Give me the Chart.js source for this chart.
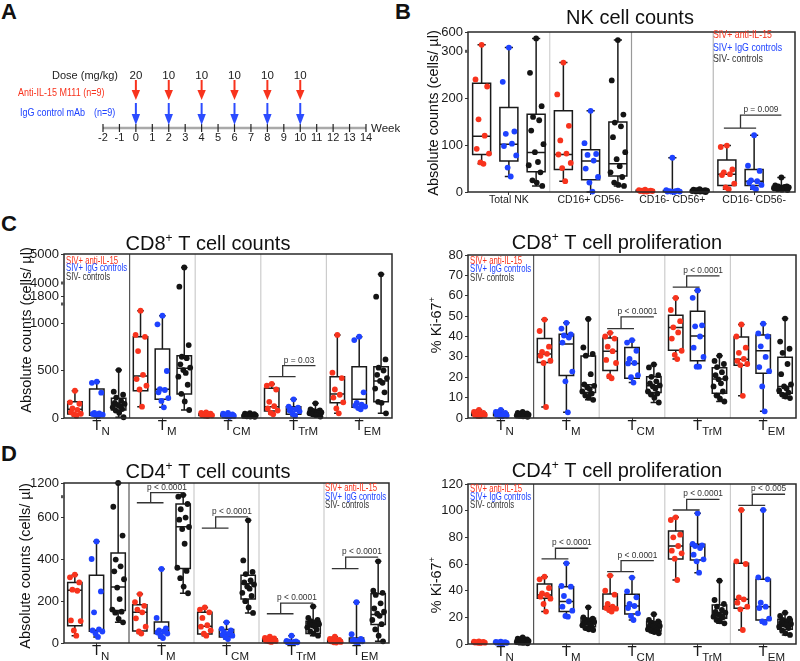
<!DOCTYPE html>
<html>
<head>
<meta charset="utf-8">
<script src="https://cdn.jsdelivr.net/npm/chart.js@4.4.1/dist/chart.umd.min.js"></script>
<style>
  body { margin: 0; width: 800px; height: 661px; position: relative; background: #fff; overflow: hidden;
         font-family: "Liberation Sans", Arial, sans-serif; }
  canvas { position: absolute; }
  .tag { position: absolute; font-weight: bold; font-size: 22px; line-height: 22px; color: #111; }
</style>
</head>
<body>
<div class="tag" style="left:1px;top:1px">A</div>
<div class="tag" style="left:395px;top:1px">B</div>
<div class="tag" style="left:1px;top:213px">C</div>
<div class="tag" style="left:1px;top:443px">D</div>
<canvas id="timeline" width="400" height="160" style="left:0px;top:0px"></canvas>
<canvas id="nk" width="400" height="215" style="left:400px;top:0px"></canvas>
<canvas id="cd8c" width="400" height="215" style="left:0px;top:225px"></canvas>
<canvas id="cd8k" width="400" height="215" style="left:400px;top:225px"></canvas>
<canvas id="cd4c" width="400" height="211" style="left:0px;top:450px"></canvas>
<canvas id="cd4k" width="400" height="211" style="left:400px;top:450px"></canvas>
<script>
// ---- panel A: dosing schedule
const weekTicks = [-2, -1, 0, 1, 2, 3, 4, 5, 6, 7, 8, 9, 10, 11, 12, 13, 14];
const doseWeeks = [0, 2, 4, 6, 8, 10];
const doseMg = [20, 10, 10, 10, 10, 10];

// ---- panel B: NK cell counts (cells/ul)
const nkGroups = ['Total NK', 'CD16+ CD56-', 'CD16- CD56+', 'CD16- CD56-'];
const nkTicks = [0, 100, 200, 300, 600];
const nkRed = [
  [400, 240, 225, 155, 120, 92, 82, 63, 60],
  [276, 208, 141, 110, 82, 80, 62, 51, 23],
  [5, 4, 3, 3, 2, 2, 2, 1, 1],
  [99, 96, 48, 42, 38, 36, 18, 10, 6]
];
const nkBlue = [
  [358, 235, 129, 124, 103, 98, 78, 52, 33],
  [173, 104, 81, 79, 67, 50, 32, 20, 1],
  [73, 4, 3, 2, 2, 1, 1, 1, 0],
  [121, 56, 45, 25, 23, 20, 15, 10, 6]
];
const nkBlack = [
  [500, 254, 183, 160, 153, 131, 102, 85, 64, 57, 42, 25, 20, 13],
  [474, 238, 165, 148, 140, 117, 85, 70, 55, 42, 32, 20, 15, 13],
  [6, 5, 4, 4, 3, 3, 3, 2, 2, 2, 1, 1, 1, 0],
  [31, 14, 12, 12, 11, 10, 10, 9, 8, 8, 7, 6, 5, 4]
];
// box stats: [min, q1, median, q3, max]
const nkRedBox = [[60, 80, 119, 232, 400], [23, 48, 80, 173, 276], [1, 1.5, 2, 3.5, 5], [6, 14, 38, 68, 99]];
const nkBlueBox = [[33, 66, 102, 180, 358], [0, 26, 66, 90, 173], [0, 1, 2, 3, 73], [6, 14, 23, 48, 121]];
const nkBlackBox = [[13, 43, 84, 166, 500], [13, 34, 60, 149, 474], [0, 1, 2.5, 4, 6], [4, 7, 10, 12, 31]];

// ---- T cell subsets
const tSubsets = ['N', 'M', 'CM', 'TrM', 'EM'];

// ---- panel C left: CD8+ T cell counts
const cd8cTicks = [0, 500, 1000, 1800, 4000, 5000];
const cd8cRed = [
  [287, 165, 150, 102, 85, 60, 45, 40, 25],
  [1130, 875, 855, 705, 455, 410, 340, 300, 119],
  [60, 55, 45, 40, 35, 30, 28, 25, 20],
  [358, 340, 300, 170, 125, 100, 78, 55, 39],
  [874, 477, 420, 300, 245, 215, 165, 100, 49]
];
const cd8cBlue = [
  [382, 370, 267, 55, 48, 42, 35, 28, 20],
  [1077, 986, 495, 305, 295, 270, 210, 180, 112],
  [55, 45, 38, 32, 28, 25, 22, 18, 12],
  [197, 120, 110, 95, 90, 80, 70, 45, 25],
  [856, 820, 270, 160, 140, 130, 120, 105, 91]
];
const cd8cBlack = [
  [505, 277, 245, 215, 180, 158, 148, 137, 125, 112, 95, 78, 55, 8],
  [4535, 3370, 768, 645, 630, 565, 530, 505, 475, 435, 350, 255, 175, 84],
  [50, 45, 40, 35, 33, 30, 28, 26, 24, 22, 20, 18, 15, 12],
  [154, 90, 80, 75, 70, 65, 60, 58, 55, 50, 45, 40, 30, 15],
  [4300, 1750, 617, 530, 500, 455, 420, 390, 370, 310, 270, 170, 160, 49]
];
const cd8cRedBox = [[21, 42, 91, 172, 287], [119, 287, 442, 856, 1130], [20, 27, 35, 45, 60], [39, 74, 119, 312, 358], [49, 161, 253, 435, 874]];
const cd8cBlueBox = [[20, 30, 49, 305, 382], [112, 197, 302, 726, 1077], [12, 20, 28, 40, 55], [21, 39, 91, 119, 197], [91, 112, 197, 540, 856]];
const cd8cBlackBox = [[8, 84, 137, 207, 505], [84, 253, 523, 656, 4535], [12, 20, 27, 35, 50], [15, 39, 60, 74, 154], [49, 172, 389, 540, 4300]];

// ---- panel C right: CD8+ T cell proliferation (% Ki-67+)
const cd8kTicks = [0, 10, 20, 30, 40, 50, 60, 70, 80];
const cd8kRed = [
  [4, 3, 2.5, 2, 2, 1.5, 1.5, 1, 1],
  [48.3, 42.7, 35, 32.5, 31.5, 30.5, 28.1, 27, 5.4],
  [41.8, 40, 39, 35, 32.8, 28.5, 27, 20.5, 19.5],
  [58.9, 53, 47.5, 44.5, 42, 39, 33, 31, 28.9],
  [45.9, 40, 34.5, 32, 29, 28, 26.5, 26, 10.9]
];
const cd8kBlue = [
  [4, 3, 2.5, 2, 1.8, 1.5, 1.2, 1, 0.8],
  [46.7, 43.9, 41, 40.5, 39.5, 37, 22.8, 18, 2.8],
  [38.2, 37, 33, 29, 27, 26.8, 21, 20, 17.4],
  [62.6, 59, 45.5, 45, 40, 34.5, 30, 25.2, 25.2],
  [46.3, 41.5, 40, 35.2, 30, 25, 23, 15.5, 3.3]
];
const cd8kBlack = [
  [3, 2.5, 2.2, 2, 2, 1.8, 1.6, 1.5, 1.4, 1.2, 1, 1, 0.8, 0.6],
  [48.6, 34.6, 31.4, 30.6, 21.5, 16.5, 15.8, 15, 14.2, 13, 12, 11, 10, 8.9],
  [26.3, 24.8, 21, 20.2, 18, 17, 16, 15.5, 14.5, 13, 12, 11.5, 10, 7.6],
  [30.6, 28, 26.5, 25, 22.5, 21, 19.5, 19, 17, 15.5, 13, 11, 9.5, 8.1],
  [48.8, 37.5, 34, 32, 26.5, 21.5, 16.5, 15.5, 14.5, 13.5, 12.5, 11.5, 10.5, 9.8]
];
const cd8kRedBox = [[1, 1.2, 1.8, 2.5, 4], [5.4, 27.3, 31.4, 39, 48.3], [19.5, 23.3, 32.8, 39.3, 41.8], [28.9, 33.3, 44.4, 50.4, 58.9], [10.9, 25.9, 28.8, 39.8, 45.9]];
const cd8kBlueBox = [[0.8, 1.1, 1.8, 2.5, 4], [2.8, 20.8, 36.3, 41.1, 46.7], [17.4, 19.5, 26.8, 34.6, 38.2], [25.2, 28.1, 40.2, 52.4, 62.6], [3.3, 22, 33, 40.7, 46.3]];
const cd8kBlackBox = [[0.6, 1.1, 1.6, 2.1, 3], [8.9, 12.5, 16.3, 30.4, 48.6], [7.6, 12.5, 15.8, 20.3, 26.3], [8.1, 12.2, 19.2, 24.7, 30.6], [9.8, 12.2, 15.4, 29.8, 48.8]];

// ---- panel D left: CD4+ T cell counts
const cd4cTicks = [0, 200, 400, 600, 1200];
const cd4cRed = [
  [327, 314, 290, 255, 250, 108, 105, 60, 35],
  [234, 196, 178, 160, 147, 118, 78, 55, 45],
  [170, 160, 147, 120, 85, 78, 60, 45, 35],
  [30, 25, 22, 18, 15, 12, 10, 8, 5],
  [30, 20, 15, 12, 10, 8, 5, 3, 2]
];
const cd4cBlue = [
  [486, 402, 247, 147, 65, 60, 55, 45, 29],
  [354, 120, 70, 60, 55, 50, 45, 35, 24],
  [99, 68, 60, 52, 45, 40, 35, 28, 19],
  [35, 10, 8, 6, 5, 4, 3, 2, 1],
  [195, 42, 20, 15, 12, 10, 8, 5, 2]
];
const cd4cBlack = [
  [1200, 652, 514, 399, 367, 343, 305, 265, 210, 160, 150, 145, 115, 99],
  [762, 700, 665, 640, 600, 590, 555, 545, 475, 360, 345, 310, 270, 238],
  [587, 395, 340, 330, 300, 290, 280, 270, 260, 240, 225, 200, 170, 144],
  [175, 120, 110, 105, 100, 95, 90, 85, 80, 75, 65, 55, 45, 35],
  [391, 250, 240, 230, 190, 165, 150, 140, 130, 110, 90, 65, 35, 8]
];
const cd4cRedBox = [[35, 83, 252, 290, 327], [45, 58, 147, 183, 234], [35, 43, 80, 147, 170], [5, 8, 14, 20, 30], [2, 3, 8, 14, 30]];
const cd4cBlueBox = [[29, 56, 61, 324, 486], [24, 45, 56, 100, 354], [19, 29, 43, 64, 99], [1, 2, 4, 8, 35], [0, 5, 13, 24, 195]];
const cd4cBlackBox = [[99, 155, 268, 431, 1200], [238, 357, 556, 665, 762], [144, 211, 284, 324, 587], [35, 45, 80, 104, 175], [8, 88, 136, 236, 391]];

// ---- panel D right: CD4+ T cell proliferation (% Ki-67+)
const cd4kTicks = [0, 20, 40, 60, 80, 100, 120];
const cd4kRed = [
  [2, 1.8, 1.5, 1.4, 1.2, 1.1, 1, 0.9, 0.8],
  [50.5, 48.5, 42, 38, 36.8, 35.5, 34, 30, 24.3],
  [51.3, 40, 37, 30, 28, 27, 26.5, 25.5, 24.3],
  [95, 93, 82, 80, 73.5, 70, 68, 64, 48],
  [100.5, 62, 60, 35, 33.5, 31, 28, 26, 10.5]
];
const cd4kBlue = [
  [1.8, 1.5, 1.3, 1.2, 1, 1, 0.9, 0.8, 0.6],
  [60.5, 43.5, 43, 36, 32, 28, 25, 21, 20.5],
  [49.8, 39.5, 35, 30, 28.5, 27, 23, 21, 18],
  [98, 75, 74, 73.5, 72, 67, 63.5, 62, 53.5],
  [100.5, 50, 48.5, 31, 28, 27, 19, 17, 16]
];
const cd4kBlack = [
  [5, 4, 3.5, 3, 2.8, 2.5, 2.3, 2, 1.8, 1.5, 1.3, 1, 0.8, 0.5],
  [27.5, 20, 19, 18, 17.5, 17, 16.5, 16, 15, 14, 13, 12, 11, 10.5],
  [22.3, 18, 17, 16, 15, 14, 13.5, 13, 12, 11, 10.5, 10, 9, 8],
  [47.5, 33, 30, 28, 25.5, 24, 23.5, 22, 21, 20.5, 20, 18, 17, 15.5],
  [23.5, 21, 19, 18, 17, 16, 15, 14.5, 14, 13, 12, 10, 8, 6.8]
];
const cd4kRedBox = [[0.8, 1, 1.2, 1.6, 2], [24.3, 34.3, 36.8, 45, 50.5], [24.3, 26.3, 28, 37.5, 51.3], [48, 63.8, 73.5, 84.8, 95], [10.5, 26.8, 33.5, 60.5, 100.5]];
const cd4kBlueBox = [[0.6, 0.85, 1, 1.3, 1.8], [20.5, 24.3, 31.8, 43, 60.5], [18, 22.5, 28.5, 37.3, 49.8], [53.5, 63, 73.5, 74.8, 98], [16, 18, 28, 48.5, 100.5]];
const cd4kBlackBox = [[0.5, 1.3, 2.4, 3.2, 5], [10.5, 13, 16.3, 19.3, 27.5], [8, 9.8, 13, 16.8, 22.3], [15.5, 19.3, 23.5, 29.3, 47.5], [6.8, 11, 14.3, 18.5, 23.5]];

// ---- significance brackets: group, lower bar, upper bar (data units), label
const nkSig = [[3, 136, 164, 'p = 0.009']];
const cd8cSig = [[3, 435, 551, 'p = 0.03']];
const cd8kSig = [[2, 43.9, 49.6, 'p < 0.0001'], [3, 64.2, 69.8, 'p < 0.0001']];
const cd4cSig = [[1, 671, 846, 'p < 0.0001'], [2, 550, 603, 'p < 0.0001'], [3, 140, 191, 'p < 0.0001'], [4, 356, 411, 'p < 0.0001']];
const cd4kSig = [[1, 63.8, 71.8, 'p < 0.0001'], [2, 54.3, 62.5, 'p < 0.0001'], [3, 100.5, 108.5, 'p < 0.0001'], [4, 104, 112.3, 'p < 0.005']];

const legendNames = ['SIV+ anti-IL-15', 'SIV+ IgG controls', 'SIV- controls'];

const RED = '#f8331d', BLUE = '#1e42ff', BLACK = '#141414';
const FONT = '"Liberation Sans", Arial, sans-serif';
const OFF = [1 / 6, 1 / 2, 5 / 6];
const JIT = [0, -0.5, 0.45, -0.25, 0.25, -0.4, 0.6, -0.1, 0.15, -0.6, 0.35, -0.3, 0.05, 0.5];

// piecewise-linear mapping for broken axes (values -> px above the bottom of the plot)
function piecewise(knots) {
  if (!knots) return v => v;
  const [vs, ds] = knots;
  return v => {
    for (let i = 1; i < vs.length; i++) {
      if (v <= vs[i] || i === vs.length - 1) {
        return ds[i - 1] + (v - vs[i - 1]) / (vs[i] - vs[i - 1]) * (ds[i] - ds[i - 1]);
      }
    }
  };
}

function label(ctx, s, x, y, size, color, align, sx) {
  ctx.save();
  ctx.font = size + 'px ' + FONT;
  ctx.fillStyle = color;
  ctx.textAlign = align || 'left';
  ctx.textBaseline = 'middle';
  ctx.translate(x, y);
  ctx.scale(sx || 1, 1);
  ctx.fillText(s, 0, 0);
  ctx.restore();
}

// centered text made of [text, size, dy] pieces (for superscripts / subscripts)
function rich(ctx, parts, x, y, color) {
  ctx.save();
  ctx.fillStyle = color;
  ctx.textBaseline = 'alphabetic';
  ctx.textAlign = 'left';
  let w = 0;
  parts.forEach(p => { ctx.font = p[1] + 'px ' + FONT; w += ctx.measureText(p[0]).width; });
  let cx = x - w / 2;
  parts.forEach(p => {
    ctx.font = p[1] + 'px ' + FONT;
    ctx.fillText(p[0], cx, y + (p[2] || 0));
    cx += ctx.measureText(p[0]).width;
  });
  ctx.restore();
}

function boxChart(id, c) {
  const cv = document.getElementById(id);
  const ox = parseFloat(cv.style.left), oy = parseFloat(cv.style.top);
  const [L, T, R, B] = c.area;
  const f = piecewise(c.knots);
  const n = c.groups.length;
  const cols = [RED, BLUE, BLACK];
  const pts = [c.red, c.blue, c.black];
  const boxes = [c.redBox, c.blueBox, c.blackBox];

  const datasets = pts.map((s, k) => ({
    data: s.flatMap((g, gi) => g.map((v, i) => ({ x: gi + OFF[k] + JIT[i % JIT.length] * 0.15, y: f(v) }))),
    pointBackgroundColor: cols[k], pointBorderColor: cols[k], pointBorderWidth: 0,
    pointRadius: 2.9, clip: false
  }));

  const deco = {
    id: 'deco',
    beforeDatasetsDraw(ch) {
      const ctx = ch.ctx, a = ch.chartArea, xs = ch.scales.x, ys = ch.scales.y;
      ctx.save();
      c.seps.forEach((col, i) => {
        const x = xs.getPixelForValue(i + 1);
        ctx.strokeStyle = col; ctx.lineWidth = 1.2;
        ctx.beginPath(); ctx.moveTo(x, a.top); ctx.lineTo(x, a.bottom); ctx.stroke();
      });
      ctx.strokeStyle = '#1a1a1a'; ctx.lineWidth = 1.5;
      boxes.forEach((bx, k) => bx.forEach((b, gi) => {
        const cx = gi + OFF[k];
        const x = xs.getPixelForValue(cx);
        const w = xs.getPixelForValue(cx + 0.11) - x;
        const cw = xs.getPixelForValue(cx + 0.05) - x;
        const [mn, q1, md, q3, mx] = b.map(v => ys.getPixelForValue(f(v)));
        ctx.beginPath();
        ctx.moveTo(x, mx); ctx.lineTo(x, q3);
        ctx.moveTo(x, q1); ctx.lineTo(x, mn);
        ctx.moveTo(x - cw, mx); ctx.lineTo(x + cw, mx);
        ctx.moveTo(x - cw, mn); ctx.lineTo(x + cw, mn);
        ctx.rect(x - w, q3, 2 * w, q1 - q3);
        ctx.moveTo(x - w, md); ctx.lineTo(x + w, md);
        ctx.stroke();
      }));
      ctx.restore();
    },
    afterDatasetsDraw(ch) {
      const ctx = ch.ctx, a = ch.chartArea, xs = ch.scales.x, ys = ch.scales.y;
      ctx.save();
      ctx.strokeStyle = '#2a2a2a'; ctx.lineWidth = 1.5;
      ctx.strokeRect(a.left, a.top, a.right - a.left, a.bottom - a.top);
      // axis break marks
      ctx.fillStyle = '#555';
      (c.breaks || []).forEach(v => ctx.fillRect(a.left - 3, ys.getPixelForValue(f(v)) - 1.5, 4, 3));
      // significance brackets
      ctx.strokeStyle = '#333'; ctx.lineWidth = 1.3;
      c.sig.forEach(([g, lo, hi, t]) => {
        const xr = xs.getPixelForValue(g + OFF[0]), xb = xs.getPixelForValue(g + OFF[1]);
        const xk = xs.getPixelForValue(g + OFF[2]), xm = (xr + xb) / 2;
        const yl = ys.getPixelForValue(f(lo)), yh = ys.getPixelForValue(f(hi));
        ctx.beginPath();
        ctx.moveTo(xr - 3, yl); ctx.lineTo(xb + 2, yl);
        ctx.moveTo(xm, yl); ctx.lineTo(xm, yh); ctx.lineTo(xk, yh);
        ctx.stroke();
        label(ctx, t, (xm + xk) / 2, yh - 5.5, 9.5, '#333', 'center', 0.88);
      });
      // group labels
      c.groups.forEach((g, i) => {
        const x = xs.getPixelForValue(i + 0.5);
        if (c.tSub) {
          ctx.font = '15px ' + FONT;
          const tw = ctx.measureText('T').width;
          ctx.fillStyle = '#1a1a1a'; ctx.textAlign = 'center'; ctx.textBaseline = 'alphabetic';
          ctx.fillText('T', x, a.bottom + 12);
          ctx.font = '11.5px ' + FONT; ctx.textAlign = 'left';
          ctx.fillText(g, x + tw / 2, a.bottom + 16.5);
        } else {
          label(ctx, g, x, a.bottom + 8.5, 10.5, '#1a1a1a', 'center');
        }
      });
      ctx.restore();

      // texts placed in page coordinates
      ctx.save();
      ctx.translate(-ox, -oy);
      const lg = c.legend;
      legendNames.forEach((s, i) => label(ctx, s, lg.x, lg.ys[i], lg.size, i === 2 ? '#333' : cols[i], 'left', lg.sx));
      rich(ctx, c.title, c.titlePos[0], c.titlePos[1], '#111');
      ctx.translate(c.yTitlePos[0], c.yTitlePos[1]);
      ctx.rotate(-Math.PI / 2);
      rich(ctx, c.yTitle, 0, 5, '#111');
      ctx.restore();
    }
  };

  new Chart(cv, {
    type: 'scatter',
    data: { datasets },
    options: {
      responsive: false, animation: false, devicePixelRatio: 1, events: [],
      layout: { padding: { left: 0, top: T - oy, right: ox + cv.width - R, bottom: 0 } },
      plugins: { legend: { display: false }, tooltip: { enabled: false } },
      scales: {
        x: {
          type: 'linear', min: 0, max: n,
          afterBuildTicks: s => { s.ticks = c.groups.map((g, i) => ({ value: i + 0.5 })); },
          afterFit: s => { s.height = oy + cv.height - B; },
          ticks: { callback: () => '', autoSkip: false },
          grid: { drawOnChartArea: false, tickLength: 3, color: '#333' },
          border: { display: false }
        },
        y: {
          type: 'linear', min: 0, max: c.yMax,
          afterBuildTicks: s => { s.ticks = c.ticks.map(t => ({ value: f(t) })); },
          afterFit: s => { s.width = L - ox; },
          ticks: {
            callback: (v, i) => String(c.ticks[i]), autoSkip: false, padding: 2,
            color: '#1a1a1a', font: { size: 13, family: FONT }
          },
          grid: { drawOnChartArea: false, tickLength: 3, color: '#333' },
          border: { display: false }
        }
      }
    },
    plugins: [deco]
  });
}

const countTitle = [['Absolute counts (cells/ \u00b5l)', 14.5, 0]];
const kiTitle = [['% Ki-67', 14.5, 0], ['+', 9.5, -6]];
const darkFirst = ['#555', '#cccccc', '#cccccc', '#cccccc'];

boxChart('nk', {
  area: [468, 32, 795, 192], knots: [[0, 300, 600], [0, 140.7, 160]], yMax: 160, breaks: [300],
  groups: nkGroups, tSub: false, ticks: nkTicks,
  red: nkRed, blue: nkBlue, black: nkBlack, redBox: nkRedBox, blueBox: nkBlueBox, blackBox: nkBlackBox,
  sig: nkSig, seps: ['#d0d0d0', '#999', '#b8b8b8'],
  legend: { x: 713, ys: [35, 47.5, 59], size: 11, sx: 0.8 },
  title: [['NK cell counts', 20, 0]], titlePos: [630, 24],
  yTitle: countTitle, yTitlePos: [433, 113]
});

boxChart('cd8c', {
  area: [64, 254, 392, 418], knots: [[0, 1200, 1800, 4000, 5000], [0, 114, 122, 135, 164]], yMax: 164, breaks: [1200, 4000],
  groups: tSubsets, tSub: true, ticks: cd8cTicks,
  red: cd8cRed, blue: cd8cBlue, black: cd8cBlack, redBox: cd8cRedBox, blueBox: cd8cBlueBox, blackBox: cd8cBlackBox,
  sig: cd8cSig, seps: darkFirst,
  legend: { x: 66, ys: [261, 268.5, 277], size: 10.5, sx: 0.74 },
  title: [['CD8', 20, 0], ['+', 12, -8], [' T cell counts', 20, 0]], titlePos: [208, 250],
  yTitle: countTitle, yTitlePos: [26, 330]
});

boxChart('cd8k', {
  area: [468, 255, 798, 418], knots: null, yMax: 80,
  groups: tSubsets, tSub: true, ticks: cd8kTicks,
  red: cd8kRed, blue: cd8kBlue, black: cd8kBlack, redBox: cd8kRedBox, blueBox: cd8kBlueBox, blackBox: cd8kBlackBox,
  sig: cd8kSig, seps: darkFirst,
  legend: { x: 470, ys: [261, 269.5, 278], size: 10.5, sx: 0.74 },
  title: [['CD8', 20, 0], ['+', 12, -8], [' T cell proliferation', 20, 0]], titlePos: [617, 249],
  yTitle: kiTitle, yTitlePos: [436, 325]
});

boxChart('cd4c', {
  area: [64, 483, 389, 643], knots: [[0, 700, 1200], [0, 146.3, 160]], yMax: 160, breaks: [700],
  groups: tSubsets, tSub: true, ticks: cd4cTicks,
  red: cd4cRed, blue: cd4cBlue, black: cd4cBlack, redBox: cd4cRedBox, blueBox: cd4cBlueBox, blackBox: cd4cBlackBox,
  sig: cd4cSig, seps: darkFirst,
  legend: { x: 325, ys: [488, 497, 505], size: 10.5, sx: 0.74 },
  title: [['CD4', 20, 0], ['+', 12, -8], [' T cell counts', 20, 0]], titlePos: [208, 478],
  yTitle: countTitle, yTitlePos: [25, 566]
});

boxChart('cd4k', {
  area: [468, 484, 796, 644], knots: null, yMax: 120,
  groups: tSubsets, tSub: true, ticks: cd4kTicks,
  red: cd4kRed, blue: cd4kBlue, black: cd4kBlack, redBox: cd4kRedBox, blueBox: cd4kBlueBox, blackBox: cd4kBlackBox,
  sig: cd4kSig, seps: darkFirst,
  legend: { x: 470, ys: [489, 497, 505], size: 10.5, sx: 0.74 },
  title: [['CD4', 20, 0], ['+', 12, -8], [' T cell proliferation', 20, 0]], titlePos: [617, 477],
  yTitle: kiTitle, yTitlePos: [436, 585]
});

// ---- panel A timeline
const timeline = {
  id: 'timeline',
  afterDraw(ch) {
    const ctx = ch.ctx, xs = ch.scales.x;
    const px = v => xs.getPixelForValue(v);
    ctx.save();
    ctx.strokeStyle = '#a9a9a9'; ctx.lineWidth = 2.5;
    ctx.beginPath(); ctx.moveTo(px(weekTicks[0]), 128); ctx.lineTo(px(weekTicks[weekTicks.length - 1]), 128); ctx.stroke();
    ctx.strokeStyle = '#222'; ctx.lineWidth = 1.2;
    weekTicks.forEach(w => {
      ctx.beginPath(); ctx.moveTo(px(w), 124); ctx.lineTo(px(w), 132); ctx.stroke();
      label(ctx, String(w), px(w), 138, 11, '#222', 'center');
    });
    label(ctx, 'Weeks', px(14) + 5, 129, 11.5, '#222', 'left');
    label(ctx, 'Dose (mg/kg)', 118, 75.5, 11, '#222', 'right');
    label(ctx, 'Anti-IL-15 M111 (n=9)', 18, 93, 10, RED, 'left', 0.9);
    label(ctx, 'IgG control mAb', 20, 113.5, 10, BLUE, 'left', 0.9);
    label(ctx, '(n=9)', 94, 113.5, 10, BLUE, 'left', 0.9);
    const arrow = (x, y0, y1, head, col) => {
      ctx.strokeStyle = col; ctx.fillStyle = col; ctx.lineWidth = 2;
      ctx.beginPath(); ctx.moveTo(x, y0); ctx.lineTo(x, y1 - head); ctx.stroke();
      ctx.beginPath(); ctx.moveTo(x - 4.2, y1 - head); ctx.lineTo(x + 4.2, y1 - head); ctx.lineTo(x, y1); ctx.closePath(); ctx.fill();
    };
    doseWeeks.forEach((w, i) => {
      label(ctx, String(doseMg[i]), px(w), 75.5, 11.5, '#222', 'center');
      arrow(px(w), 80, 100, 10, RED);
      arrow(px(w), 103, 125, 11, '#2c4cff');
    });
    ctx.restore();
  }
};

new Chart(document.getElementById('timeline'), {
  type: 'scatter',
  data: { datasets: [] },
  options: {
    responsive: false, animation: false, devicePixelRatio: 1, events: [],
    layout: { padding: { left: 103, right: 34, top: 0, bottom: 0 } },
    plugins: { legend: { display: false }, tooltip: { enabled: false } },
    scales: {
      x: { type: 'linear', min: weekTicks[0], max: weekTicks[weekTicks.length - 1], display: false },
      y: { min: 0, max: 1, display: false }
    }
  },
  plugins: [timeline]
});
</script>
</body>
</html>
